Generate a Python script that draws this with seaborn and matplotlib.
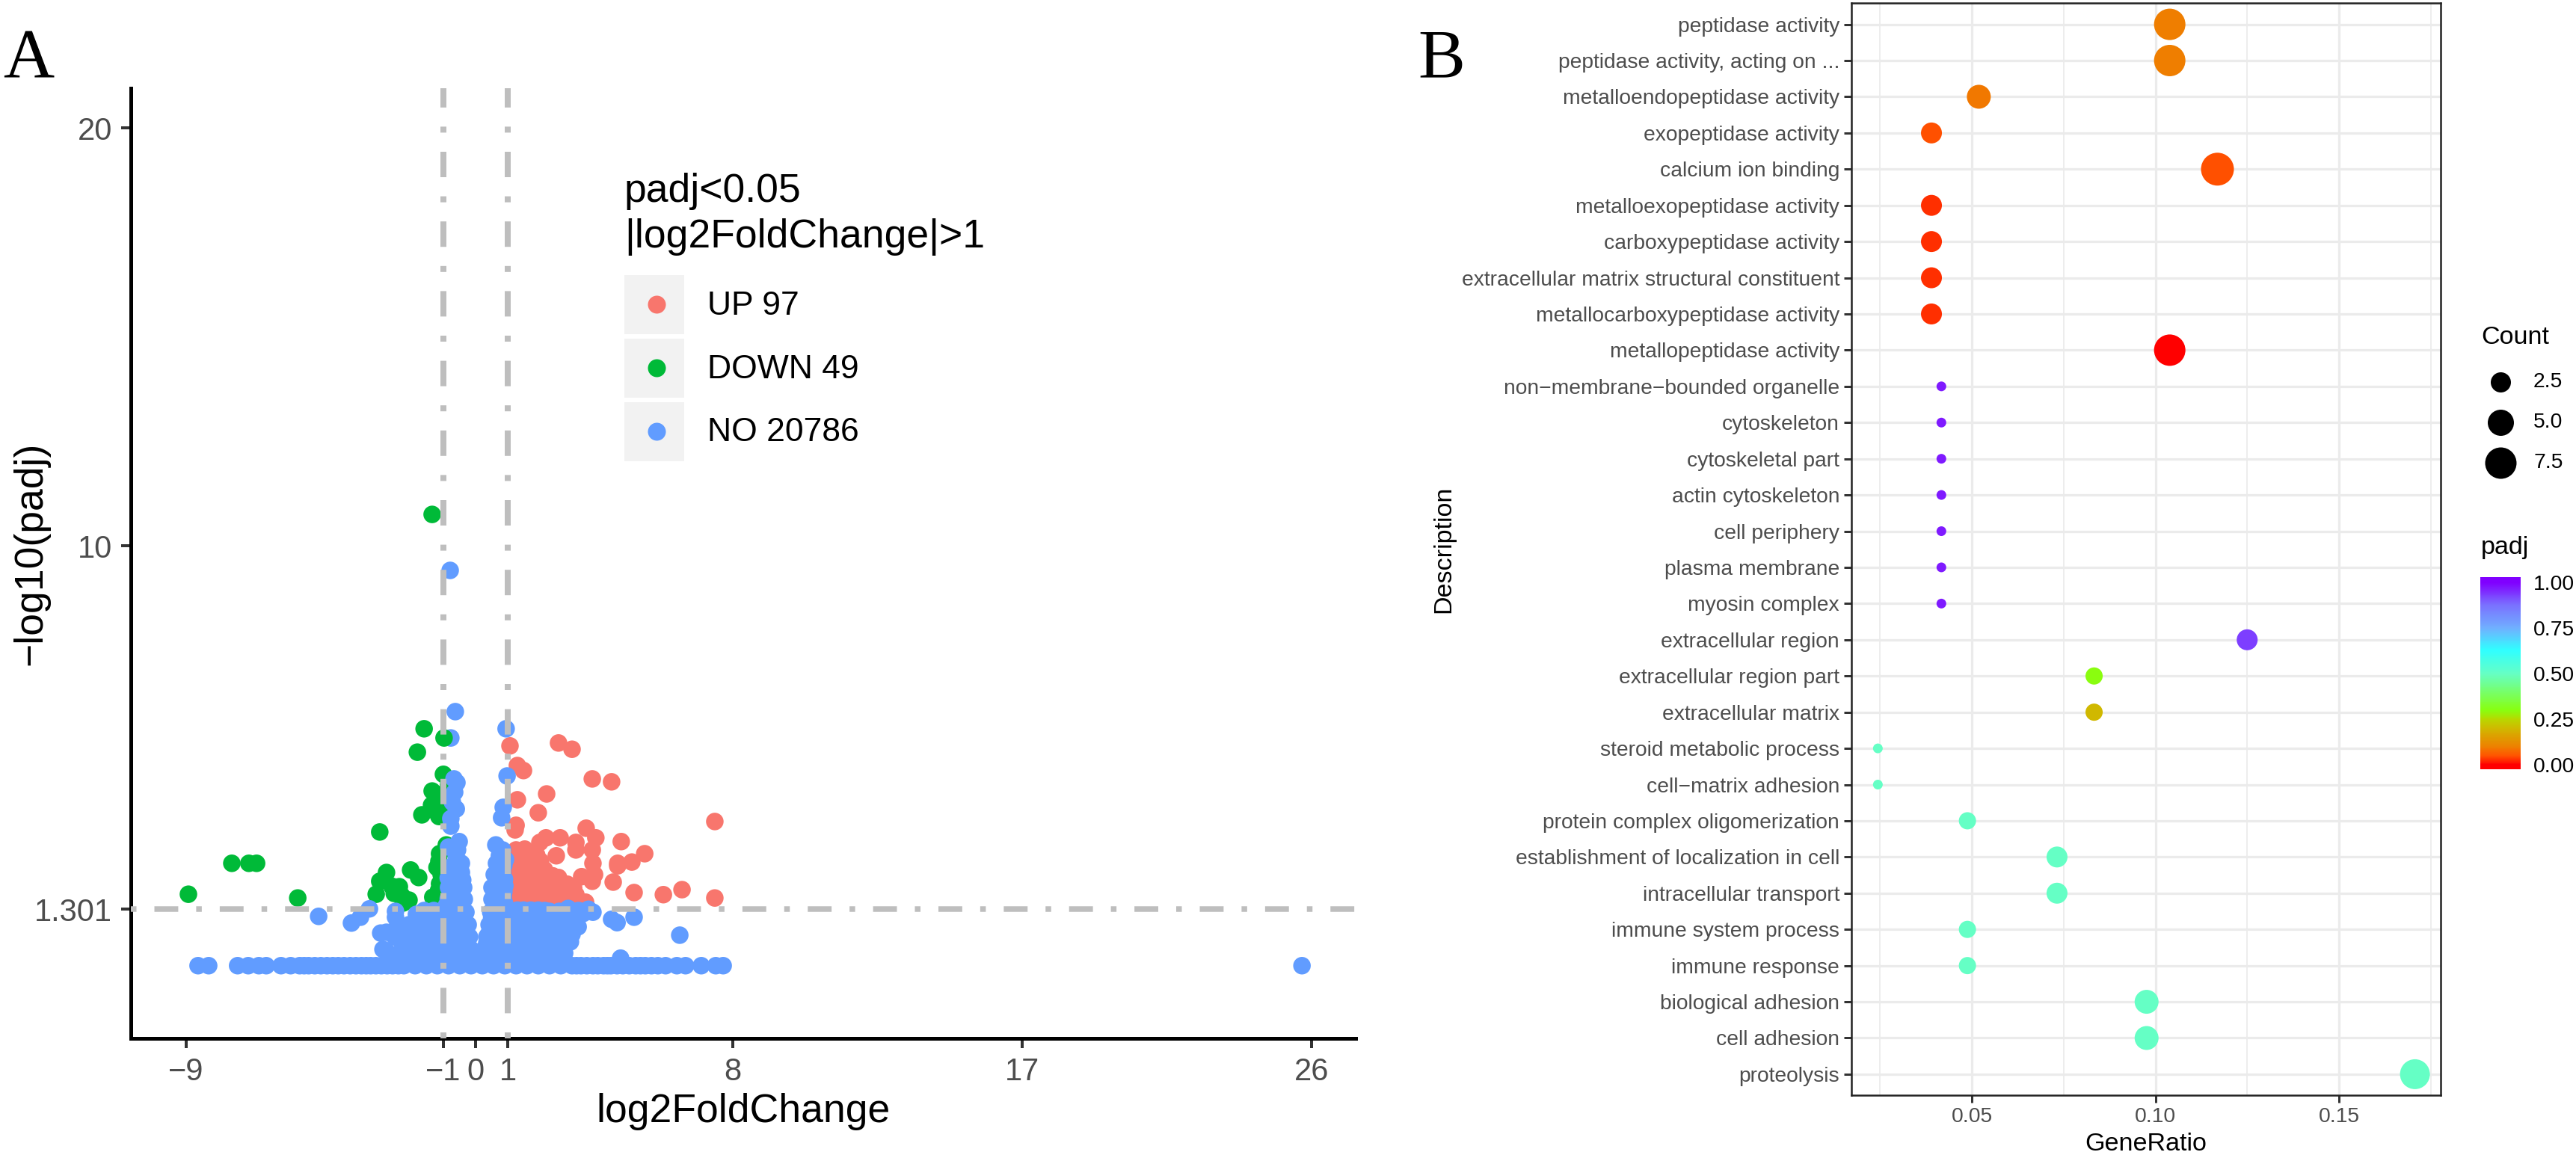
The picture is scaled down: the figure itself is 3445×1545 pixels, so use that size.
import matplotlib
matplotlib.use('Agg')
import matplotlib.pyplot as plt
import pandas as pd
import seaborn as sns
from matplotlib.cm import ScalarMappable
from matplotlib.colors import LinearSegmentedColormap, Normalize
from matplotlib.lines import Line2D
from matplotlib.patches import Rectangle

# panel A, (log2FoldChange, -log10(padj))
up_points = [
    (1.07, 5.21), (1.30, 4.74), (1.49, 4.62), (2.58, 5.28), (3.00, 5.13), (3.63, 4.42), (4.23, 4.35),
    (2.21, 4.06), (1.95, 3.61), (1.30, 3.92), (1.26, 3.31), (1.23, 3.20), (7.44, 3.40), (7.44, 1.57),
    (3.44, 3.24), (3.74, 3.01), (4.53, 2.92), (5.26, 2.63), (4.86, 2.43), (4.42, 2.40), (4.42, 2.34),
    (4.28, 1.95), (4.93, 1.70), (5.84, 1.65), (6.42, 1.77), (2.19, 3.01), (2.63, 3.01), (2.00, 2.90),
    (1.53, 2.74), (3.12, 2.90), (3.12, 2.72), (2.51, 2.58), (3.63, 2.72), (3.65, 2.40), (3.70, 2.13),
    (3.63, 1.97), (3.30, 2.08), (2.58, 2.06), (2.02, 2.45), (1.72, 2.49), (1.33, 2.61), (1.26, 2.72),
    (2.14, 2.25), (1.56, 2.18), (1.21, 2.00), (1.49, 1.95), (1.88, 2.00), (2.26, 1.90), (2.65, 1.77),
    (3.05, 1.81), (3.12, 1.65), (3.42, 1.47), (1.42, 1.65), (1.88, 1.65), (2.35, 1.65), (2.81, 1.63),
    (1.33, 2.36), (1.65, 2.36), (1.37, 1.77), (1.19, 2.18), (1.95, 2.31), (2.53, 1.59),
    (1.6, 2.55), (1.9, 2.6), (1.4, 2.15), (1.75, 2.15), (2.05, 2.15), (2.4, 2.1), (1.3, 1.9), (1.65, 1.85),
    (2.05, 1.85), (2.45, 1.9), (2.85, 1.9), (1.2, 1.7), (1.6, 1.65), (2.1, 1.65), (2.6, 1.65), (3.0, 1.6),
    (1.25, 1.5), (1.6, 1.5), (1.95, 1.5), (2.3, 1.5), (2.65, 1.5), (3.0, 1.45), (3.3, 1.45),
]
down_points = [
    (-1.35, 10.75), (-1.60, 5.62), (-0.98, 5.40), (-1.81, 5.06), (-1.00, 4.53), (-1.35, 4.13), (-0.84, 4.28),
    (-1.37, 3.79), (-1.19, 3.86), (-1.67, 3.56), (-1.14, 3.52), (-2.98, 3.15), (-0.91, 2.84), (-1.12, 2.63),
    (-1.14, 2.45), (-1.02, 2.25), (-1.07, 2.13), (-1.12, 1.91), (-1.33, 1.59), (-1.00, 1.65), (-7.58, 2.40),
    (-7.05, 2.40), (-6.81, 2.40), (-8.93, 1.66), (-5.53, 1.57), (-2.77, 2.18), (-2.98, 1.97), (-3.09, 1.66),
    (-2.37, 1.84), (-2.02, 2.24), (-1.77, 2.06), (-2.07, 1.52), (-2.53, 1.68), (-2.30, 1.63),
    (-1.2, 4.05), (-1.1, 3.7), (-1.25, 3.65), (-2.6, 1.85), (-2.25, 1.45), (-1.15, 1.75), (-1.2, 2.3),
]
no_behind = [(-0.77, 5.40)]
no_upper = [
    (-0.79, 9.41), (-0.63, 6.03), (0.95, 5.62), (0.98, 4.49), (-0.67, 4.42), (-0.58, 4.33), (-0.65, 4.10),
    (-0.79, 3.97), (-0.72, 3.86), (-0.60, 3.70), (-0.77, 3.47), (-0.77, 3.29), (0.86, 3.74), (0.81, 3.49),
]
no_left_spike = [
    (-0.51, 2.92), (-0.56, 2.72), (-0.84, 2.79), (-0.60, 2.54), (-0.44, 2.40), (-0.77, 2.31), (-0.44, 2.18),
    (-0.67, 2.08), (-0.37, 1.82), (-0.84, 1.82), (-0.60, 1.82), (-0.35, 1.54), (-0.60, 1.54), (-0.30, 1.23),
    (-0.23, 0.93), (-0.19, 0.64), (-0.14, 0.34), (-0.85, 2.05), (-0.55, 2.3), (-0.4, 2.0), (-0.85, 1.55),
    (-0.45, 1.7), (-0.7, 1.7), (-0.45, 1.4), (-0.7, 1.4), (-0.9, 1.4),
]
no_right_spike = [
    (0.63, 2.84), (0.84, 2.72), (0.74, 2.58), (0.93, 2.49), (0.74, 2.31), (0.58, 2.13), (0.84, 2.18),
    (0.91, 1.86), (0.67, 1.95), (0.51, 1.82), (0.51, 1.54), (0.86, 1.59), (0.70, 1.60), (0.47, 1.23),
    (0.42, 0.93), (0.35, 0.64), (0.26, 0.34), (0.88, 2.35), (0.90, 2.02), (0.88, 1.72), (0.65, 2.4),
    (0.75, 2.1), (0.7, 1.8), (0.65, 1.45), (0.9, 1.45),
]
no_left_side = [
    (-4.88, 1.13), (-3.86, 0.97), (-3.58, 1.11), (-3.30, 1.31), (-2.49, 1.25), (-2.49, 1.11), (-2.95, 0.73),
    (-2.77, 0.75), (-2.88, 0.34), (-2.77, 0.30), (-2.51, 0.64), (-2.42, 0.93), (-1.60, 1.27), (-1.84, 1.18),
    (-2.07, 0.93), (-2.23, 0.75), (-2.30, 0.52), (-1.30, 1.27), (-0.91, 1.27), (-0.60, 1.41),
]
no_left_core = [
    (-1.8, 1.05), (-1.5, 1.05), (-1.2, 1.05), (-0.9, 1.05), (-0.6, 1.05), (-0.35, 1.05),
    (-1.95, 0.85), (-1.65, 0.85), (-1.35, 0.85), (-1.05, 0.85), (-0.75, 0.85), (-0.45, 0.85),
    (-2.1, 0.65), (-1.8, 0.65), (-1.5, 0.65), (-1.2, 0.65), (-0.9, 0.65), (-0.6, 0.65), (-0.35, 0.65),
    (-2.2, 0.45), (-1.95, 0.45), (-1.65, 0.45), (-1.35, 0.45), (-1.05, 0.45), (-0.75, 0.45), (-0.45, 0.45),
    (-2.35, 0.25), (-2.1, 0.25), (-1.8, 0.25), (-1.5, 0.25), (-1.2, 0.25), (-0.9, 0.25), (-0.6, 0.25), (-0.3, 0.25),
    (-2.5, 0.08), (-2.2, 0.08), (-1.95, 0.08), (-1.65, 0.08), (-1.35, 0.08), (-1.05, 0.08), (-0.75, 0.08),
    (-0.45, 0.08), (-0.15, 0.1), (0.0, 0.15),
]
no_right_core = [
    (0.6, 1.28), (0.85, 1.28), (1.05, 1.28), (1.30, 1.28), (1.49, 1.28), (1.72, 1.28), (1.95, 1.28), (2.15, 1.27),
    (2.30, 1.25), (2.60, 1.25), (2.88, 1.32), (3.2, 1.27), (3.51, 1.30), (3.65, 1.23), (3.35, 1.2),
    (0.5, 1.1), (0.8, 1.1), (1.1, 1.1), (1.4, 1.1), (1.7, 1.1), (2.0, 1.1), (2.3, 1.1), (2.6, 1.1), (2.9, 1.1), (3.15, 1.1),
    (0.45, 0.9), (0.7, 0.9), (1.0, 0.9), (1.3, 0.9), (1.6, 0.9), (1.9, 0.9), (2.2, 0.9), (2.5, 0.9), (2.8, 0.9), (3.19, 0.88),
    (0.4, 0.7), (0.6, 0.7), (0.9, 0.7), (1.2, 0.7), (1.5, 0.7), (1.8, 0.7), (2.1, 0.7), (2.4, 0.7), (2.7, 0.7), (3.0, 0.7),
    (0.35, 0.5), (0.7, 0.5), (1.0, 0.5), (1.3, 0.5), (1.6, 0.5), (1.9, 0.5), (2.2, 0.5), (2.5, 0.5), (2.95, 0.52),
    (0.3, 0.3), (0.55, 0.3), (0.85, 0.3), (1.15, 0.3), (1.45, 0.3), (1.75, 0.3), (2.05, 0.3), (2.35, 0.3), (2.77, 0.25),
    (0.15, 0.12), (0.45, 0.1), (0.75, 0.1), (1.05, 0.1), (1.35, 0.1), (1.65, 0.1), (1.95, 0.1), (2.25, 0.1), (2.55, 0.1),
    (4.23, 1.06), (4.40, 0.98), (4.93, 1.11), (6.35, 0.68), (4.51, 0.13),
]
no_tail_x = [
    -8.63, -8.30, -7.40, -7.07, -6.74, -6.51, -6.05, -5.75, -5.47, -5.33, -5.19, -5.00, -4.81, -4.62, -4.44, -4.27,
    -4.09, -3.90, -3.72, -3.55, -3.40, -3.26, -3.10, -2.93, -2.75, -2.58, -2.40, -2.23, -1.88, -1.53, -1.19, -0.84,
    -0.49, -0.14, 0.21, 0.56, 0.91, 1.26, 1.60, 1.95, 2.30, 2.65, 3.00, 3.14, 3.28, 3.46, 3.65, 3.80, 3.98, 4.10,
    4.21, 4.40, 4.58, 4.78, 4.98, 5.13, 5.28, 5.47, 5.67, 5.91, 6.26, 6.53, 7.02, 7.47, 7.70, 25.70,
]
no_tail_y = -0.05

volcano_xticks = [-9, -1, 0, 1, 8, 17, 26]
volcano_xticklabels = ['\u22129', '\u22121', '0', '1', '8', '17', '26']
volcano_yticks = [1.301, 10, 20]
volcano_yticklabels = ['1.301', '10', '20']
fc_cut = [-1, 1]
p_cut = 1.301
group_names = ['UP', 'DOWN', 'NO']
group_labels = ['UP 97', 'DOWN 49', 'NO 20786']
group_colors = ['#F8766D', '#00BA38', '#619CFF']

# panel B
descriptions = [
    'peptidase activity', 'peptidase activity, acting on ...', 'metalloendopeptidase activity',
    'exopeptidase activity', 'calcium ion binding', 'metalloexopeptidase activity', 'carboxypeptidase activity',
    'extracellular matrix structural constituent', 'metallocarboxypeptidase activity', 'metallopeptidase activity',
    'non\u2212membrane\u2212bounded organelle', 'cytoskeleton', 'cytoskeletal part', 'actin cytoskeleton',
    'cell periphery', 'plasma membrane', 'myosin complex', 'extracellular region', 'extracellular region part',
    'extracellular matrix', 'steroid metabolic process', 'cell\u2212matrix adhesion',
    'protein complex oligomerization', 'establishment of localization in cell', 'intracellular transport',
    'immune system process', 'immune response', 'biological adhesion', 'cell adhesion', 'proteolysis',
]
gene_ratio = [
    0.1039, 0.1039, 0.0519, 0.039, 0.1169, 0.039, 0.039, 0.039, 0.039, 0.1039,
    0.0417, 0.0417, 0.0417, 0.0417, 0.0417, 0.0417, 0.0417, 0.125, 0.0833, 0.0833,
    0.0244, 0.0244, 0.0488, 0.0732, 0.0732, 0.0488, 0.0488, 0.0976, 0.0976, 0.1707,
]
counts = [8, 8, 4, 3, 9, 3, 3, 3, 3, 8, 1, 1, 1, 1, 1, 1, 1, 3, 2, 2, 1, 1, 2, 3, 3, 2, 2, 4, 4, 7]
padj = [
    0.10, 0.10, 0.09, 0.05, 0.05, 0.03, 0.03, 0.028, 0.028, 0.0,
    0.97, 0.97, 0.97, 0.97, 0.97, 0.97, 0.97, 0.93, 0.30, 0.20,
    0.50, 0.50, 0.50, 0.50, 0.50, 0.50, 0.50, 0.50, 0.50, 0.50,
]
ratio_ticks = [0.05, 0.10, 0.15]
ratio_minor = [0.025, 0.075, 0.125, 0.175]
count_legend = [2.5, 5.0, 7.5]
padj_ticks = [0.0, 0.25, 0.5, 0.75, 1.0]

W, H = 3445, 1545
DPI = 100


def px(v):
    return v * 72 / DPI


def fx(x):
    return x / W


def fy(y):
    return 1 - y / H


def add_axes(left, top, right, bottom):
    return fig.add_axes([fx(left), fy(bottom), (right - left) / W, (bottom - top) / H])


sns.set_theme(style='white')
plt.rcParams['font.family'] = ['Liberation Sans', 'DejaVu Sans']

fig = plt.figure(figsize=(W / DPI, H / DPI), dpi=DPI, facecolor='white')

# volcano
frames = []
for pts, name in [(no_behind, 'NO'), (up_points, 'UP'), (down_points, 'DOWN'), (no_upper, 'NO'),
                  (no_left_spike, 'NO'), (no_right_spike, 'NO'), (no_left_side, 'NO'),
                  (no_left_core, 'NO'), (no_right_core, 'NO'),
                  ([(x, no_tail_y) for x in no_tail_x], 'NO')]:
    part = pd.DataFrame(pts, columns=['log2FoldChange', 'log10padj'])
    part['group'] = name
    frames.append(part)
volcano = pd.concat(frames, ignore_index=True)

ax_a = add_axes(175, 118, 1813, 1389)
sns.scatterplot(data=volcano, x='log2FoldChange', y='log10padj', hue='group', hue_order=group_names,
                palette=group_colors, s=px(23.5) ** 2, linewidth=0, alpha=1, legend=False, ax=ax_a, zorder=1)
dotdash = (0, (1, 3.2, 4.25, 3.2))
for v in fc_cut:
    ax_a.axvline(v, color='#bebebe', lw=px(8), ls=dotdash, zorder=3)
ax_a.axhline(p_cut, color='#bebebe', lw=px(7.5), ls=dotdash, zorder=3)
ax_a.set_xlim(-10.72, 27.37)
ax_a.set_ylim(-1.79, 20.95)
ax_a.set_xticks(volcano_xticks, volcano_xticklabels)
ax_a.set_yticks(volcano_yticks, volcano_yticklabels)
ax_a.tick_params(length=px(13), width=px(4), color='#333333', labelcolor='#4d4d4d', labelsize=30, pad=px(12),
                 bottom=True, left=True)
ax_a.set_xlabel('log2FoldChange', fontsize=38.5, color='black', labelpad=px(8))
ax_a.set_ylabel('\u2212log10(padj)', fontsize=38.5, color='black')
ax_a.yaxis.set_label_coords(-0.0665, 0.51)
for side in ['top', 'right']:
    ax_a.spines[side].set_visible(False)
for side in ['left', 'bottom']:
    ax_a.spines[side].set_linewidth(px(5))
    ax_a.spines[side].set_color('black')

# volcano legend
fig.text(fx(835), fy(270), 'padj<0.05', fontsize=38.5, color='black', va='baseline')
fig.text(fx(835), fy(331), '|log2FoldChange|>1', fontsize=38.5, color='black', va='baseline')
for label, color, top in zip(group_labels, group_colors, [368, 453, 538]):
    fig.add_artist(Rectangle((fx(835), fy(top + 79)), 80 / W, 79 / H, transform=fig.transFigure,
                             facecolor='#f2f2f2', edgecolor='none'))
    fig.add_artist(Line2D([fx(878)], [fy(top + 39)], marker='o', ms=px(24), mfc=color, mec='none', ls='none',
                          transform=fig.transFigure))
    fig.text(fx(946), fy(top + 41), label, fontsize=32, color='black', va='center')

# dot plot
rainbow_nodes = [
    (0.0, '#ff0000'), (0.05, '#ff5500'), (0.10, '#ee8000'), (0.20, '#d0b800'), (0.25, '#b8d800'), (0.30, '#88ff10'),
    (0.50, '#66ffc4'), (0.63, '#30ffff'), (0.75, '#70b0ff'), (0.88, '#7a70ff'), (1.0, '#8000ff'),
]
rainbow_cmap = LinearSegmentedColormap.from_list('padj_rainbow', rainbow_nodes)
count_sizes = {1: px(13) ** 2, 2: px(23) ** 2, 3: px(28) ** 2, 4: px(32) ** 2, 7: px(40) ** 2, 8: px(42) ** 2,
               9: px(44) ** 2}

go = pd.DataFrame({'Description': descriptions, 'GeneRatio': gene_ratio, 'Count': counts, 'padj': padj})
ax_b = add_axes(2476, 4, 3264, 1465)
ax_b.set_axisbelow(True)
sns.scatterplot(data=go, x='GeneRatio', y='Description', hue='padj', size='Count', sizes=count_sizes,
                hue_norm=(0, 1), palette=rainbow_cmap, linewidth=0, legend=False, ax=ax_b, zorder=3)
ax_b.set_xlim(0.0172, 0.1777)
ax_b.set_ylim(29.58, -0.59)
ax_b.set_xticks(ratio_ticks, [f'{t:.2f}' for t in ratio_ticks])
ax_b.set_xticks(ratio_minor, minor=True)
ax_b.grid(True, which='major', axis='both', color='#ebebeb', lw=px(3.2))
ax_b.grid(True, which='minor', axis='x', color='#ebebeb', lw=px(1.8))
ax_b.tick_params(which='major', length=px(10), width=px(3), color='#333333', labelcolor='#4d4d4d', labelsize=20.3,
                 pad=px(6), bottom=True, left=True)
ax_b.tick_params(which='minor', length=0)
ax_b.set_xlabel('GeneRatio', fontsize=24.6, color='black', labelpad=px(8))
ax_b.set_ylabel('Description', fontsize=24.6, color='black', labelpad=px(8))
for spine in ax_b.spines.values():
    spine.set_linewidth(px(2.5))
    spine.set_color('#222222')

# count legend
fig.text(fx(3318), fy(451), 'Count', fontsize=24.6, color='black', va='center')
for value, diam, y in zip(count_legend, [27, 35, 42], [511, 565, 619]):
    fig.add_artist(Line2D([fx(3344)], [fy(y)], marker='o', ms=px(diam), mfc='black', mec='none', ls='none',
                          transform=fig.transFigure))
    fig.text(fx(3388), fy(y), f'{value:.1f}', fontsize=20.3, color='black', va='center')

# padj colorbar
fig.text(fx(3318), fy(733), 'padj', fontsize=24.6, color='black', va='center')
cax = add_axes(3317, 772, 3371, 1029)
bar = fig.colorbar(ScalarMappable(norm=Normalize(0, 1), cmap=rainbow_cmap), cax=cax, ticks=padj_ticks,
                   extend='both', extendrect=True, extendfrac=(0.023, 0.03), drawedges=False)
bar.outline.set_visible(False)
bar.set_ticklabels([f'{t:.2f}' for t in padj_ticks])
cax.tick_params(direction='in', length=px(11), width=px(1.5), color='white', labelcolor='black', labelsize=20.3,
                left=True, right=True, pad=px(17))

# panel letters
fig.text(fx(4), fy(104), 'A', family='Liberation Serif', fontsize=68, color='black', va='baseline')
fig.text(fx(1896), fy(103), 'B', family='Liberation Serif', fontsize=68, color='black', va='baseline')

fig.savefig('out.png', dpi=DPI)
